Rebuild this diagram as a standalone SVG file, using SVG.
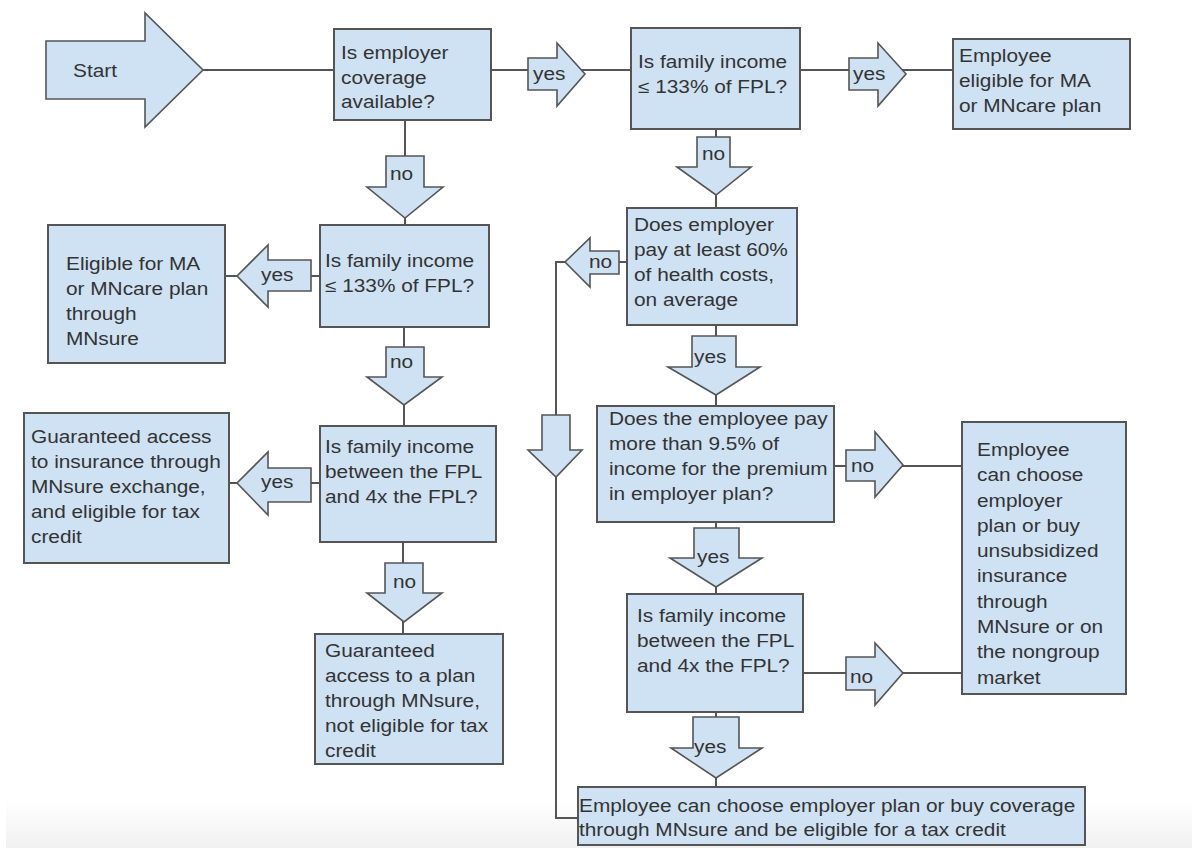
<svg xmlns="http://www.w3.org/2000/svg" width="1192" height="848" viewBox="0 0 1192 848">
<defs>
<linearGradient id="band" x1="0" y1="0" x2="0" y2="1">
<stop offset="0" stop-color="#ffffff"/>
<stop offset="1" stop-color="#f1f1f1"/>
</linearGradient>
<style>
.box{fill:#cfe2f3;stroke:#555;stroke-width:2}
.arr{fill:#cfe2f3;stroke:#555;stroke-width:1.6;stroke-linejoin:miter}
.ln{fill:none;stroke:#555;stroke-width:2}
text{font-family:"Liberation Sans",Arial,sans-serif;font-size:17.5px;fill:#333}
</style>
</defs>
<rect x="0" y="0" width="1192" height="848" fill="#fff"/>
<rect x="6" y="800" width="1186" height="48" fill="url(#band)"/>

<g id="connectors">
<polyline class="ln" points="203,70 334,70"/>
<polyline class="ln" points="491,70 631,70"/>
<polyline class="ln" points="800,70 953,70"/>
<polyline class="ln" points="405,120 405,225"/>
<polyline class="ln" points="320,276 225,276"/>
<polyline class="ln" points="404,327 404,426"/>
<polyline class="ln" points="320,483 229,483"/>
<polyline class="ln" points="403,542 403,634"/>
<polyline class="ln" points="716,129 716,208"/>
<polyline class="ln" points="627,262 556,262 556,818 578,818"/>
<polyline class="ln" points="716,325 716,406"/>
<polyline class="ln" points="834,466 962,466"/>
<polyline class="ln" points="716,522 716,594"/>
<polyline class="ln" points="803,673 962,673"/>
<polyline class="ln" points="716,712 716,787"/>
</g>

<g id="start">
<polygon class="arr" points="46,41 145,41 145,13 203,70 145,127 145,99 46,99"/>
<text transform="translate(73,77) scale(1.19 1)">Start</text>
</g>

<g id="arrow-yes-1">
<polygon class="arr" points="528,58 557,58 557,43 585,74 557,106 557,90 528,90"/>
<text transform="translate(533,80) scale(1.19 1)">yes</text>
</g>
<g id="arrow-yes-2">
<polygon class="arr" points="849,58 878,58 878,43 906,74 878,106 878,90 849,90"/>
<text transform="translate(853,80) scale(1.19 1)">yes</text>
</g>
<g id="arrow-no-1">
<polygon class="arr" points="386,156 424,156 424,187 443,187 405,218 367,187 386,187"/>
<text transform="translate(390,180) scale(1.19 1)">no</text>
</g>
<g id="arrow-yes-3">
<polygon class="arr" points="311,260 311,291 268,291 268,307 237,276 268,245 268,260"/>
<text transform="translate(261,281) scale(1.19 1)">yes</text>
</g>
<g id="arrow-no-2">
<polygon class="arr" points="386,347 424,347 424,377 442,377 404,405 367,377 386,377"/>
<text transform="translate(390,368) scale(1.19 1)">no</text>
</g>
<g id="arrow-yes-4">
<polygon class="arr" points="311,468 311,502 268,502 268,515 237,483 268,452 268,468"/>
<text transform="translate(261,488) scale(1.19 1)">yes</text>
</g>
<g id="arrow-no-3">
<polygon class="arr" points="385,563 423,563 423,593 442,593 404,622 367,593 385,593"/>
<text transform="translate(393,588) scale(1.19 1)">no</text>
</g>
<g id="arrow-no-4">
<polygon class="arr" points="697,137 730,137 730,167 751,167 716,195 677,167 697,167"/>
<text transform="translate(702,160) scale(1.19 1)">no</text>
</g>
<g id="arrow-no-5">
<polygon class="arr" points="619,251 619,274 590,274 590,287 565,262 590,238 590,251"/>
<text transform="translate(589,268) scale(1.19 1)">no</text>
</g>
<g id="arrow-down-left">
<polygon class="arr" points="542,415 570,415 570,450 582,450 556,477 528,450 542,450"/>
</g>
<g id="arrow-yes-5">
<polygon class="arr" points="692,336 736,336 736,367 760,367 716,395 668,367 692,367"/>
<text transform="translate(694,363) scale(1.19 1)">yes</text>
</g>
<g id="arrow-no-6">
<polygon class="arr" points="846,450 875,450 875,432 903,465 875,497 875,481 846,481"/>
<text transform="translate(851,472) scale(1.19 1)">no</text>
</g>
<g id="arrow-yes-6">
<polygon class="arr" points="694,528 739,528 739,558 762,558 716,587 670,558 694,558"/>
<text transform="translate(697,563) scale(1.19 1)">yes</text>
</g>
<g id="arrow-no-7">
<polygon class="arr" points="846,657 875,657 875,643 903,673 875,705 875,690 846,690"/>
<text transform="translate(850,683) scale(1.19 1)">no</text>
</g>
<g id="arrow-yes-7">
<polygon class="arr" points="693,717 739,717 739,748 762,748 716,778 671,748 693,748"/>
<text transform="translate(694,753) scale(1.19 1)">yes</text>
</g>

<g id="box-employer-coverage">
<rect class="box" x="334" y="29" width="157" height="91"/>
<text transform="translate(341,59) scale(1.19 1)"><tspan x="0" y="0">Is employer</tspan><tspan x="0" y="25">coverage</tspan><tspan x="0" y="49">available?</tspan></text>
</g>
<g id="box-income-133-a">
<rect class="box" x="631" y="28" width="169" height="101"/>
<text transform="translate(638,68) scale(1.19 1)"><tspan x="0" y="0">Is family income</tspan><tspan x="0" y="25">≤ 133% of FPL?</tspan></text>
</g>
<g id="box-employee-eligible-ma">
<rect class="box" x="953" y="39" width="177" height="90"/>
<text transform="translate(959,62) scale(1.19 1)"><tspan x="0" y="0">Employee</tspan><tspan x="0" y="25">eligible for MA</tspan><tspan x="0" y="50">or MNcare plan</tspan></text>
</g>
<g id="box-income-133-b">
<rect class="box" x="320" y="225" width="169" height="102"/>
<text transform="translate(325,267) scale(1.19 1)"><tspan x="0" y="0">Is family income</tspan><tspan x="0" y="25">≤ 133% of FPL?</tspan></text>
</g>
<g id="box-eligible-ma-mnsure">
<rect class="box" x="48" y="225" width="177" height="138"/>
<text transform="translate(66,270) scale(1.19 1)"><tspan x="0" y="0">Eligible for MA</tspan><tspan x="0" y="25">or MNcare plan</tspan><tspan x="0" y="50">through</tspan><tspan x="0" y="75">MNsure</tspan></text>
</g>
<g id="box-income-fpl-a">
<rect class="box" x="320" y="426" width="176" height="116"/>
<text transform="translate(325,453) scale(1.19 1)"><tspan x="0" y="0">Is family income</tspan><tspan x="0" y="25">between the FPL</tspan><tspan x="0" y="50">and 4x the FPL?</tspan></text>
</g>
<g id="box-guaranteed-tax-credit">
<rect class="box" x="24" y="413" width="205" height="150"/>
<text transform="translate(31,443) scale(1.19 1)"><tspan x="0" y="0">Guaranteed access</tspan><tspan x="0" y="25">to insurance through</tspan><tspan x="0" y="50">MNsure exchange,</tspan><tspan x="0" y="75">and eligible for tax</tspan><tspan x="0" y="100">credit</tspan></text>
</g>
<g id="box-guaranteed-no-credit">
<rect class="box" x="315" y="634" width="188" height="130"/>
<text transform="translate(325,657) scale(1.19 1)"><tspan x="0" y="0">Guaranteed</tspan><tspan x="0" y="25">access to a plan</tspan><tspan x="0" y="50">through MNsure,</tspan><tspan x="0" y="75">not eligible for tax</tspan><tspan x="0" y="100">credit</tspan></text>
</g>
<g id="box-employer-60">
<rect class="box" x="627" y="208" width="170" height="117"/>
<text transform="translate(634,231) scale(1.19 1)"><tspan x="0" y="0">Does employer</tspan><tspan x="0" y="25">pay at least 60%</tspan><tspan x="0" y="50">of health costs,</tspan><tspan x="0" y="75">on average</tspan></text>
</g>
<g id="box-premium-95">
<rect class="box" x="597" y="406" width="237" height="116"/>
<text transform="translate(609,425) scale(1.19 1)"><tspan x="0" y="0">Does the employee pay</tspan><tspan x="0" y="25">more than 9.5% of</tspan><tspan x="0" y="50">income for the premium</tspan><tspan x="0" y="75">in employer plan?</tspan></text>
</g>
<g id="box-unsubsidized">
<rect class="box" x="962" y="422" width="164" height="272"/>
<text transform="translate(977,456) scale(1.19 1)"><tspan x="0" y="0">Employee</tspan><tspan x="0" y="25.3">can choose</tspan><tspan x="0" y="50.6">employer</tspan><tspan x="0" y="75.9">plan or buy</tspan><tspan x="0" y="101.2">unsubsidized</tspan><tspan x="0" y="126.5">insurance</tspan><tspan x="0" y="151.8">through</tspan><tspan x="0" y="177.1">MNsure or on</tspan><tspan x="0" y="202.4">the nongroup</tspan><tspan x="0" y="227.7">market</tspan></text>
</g>
<g id="box-income-fpl-b">
<rect class="box" x="627" y="594" width="176" height="118"/>
<text transform="translate(637,622) scale(1.19 1)"><tspan x="0" y="0">Is family income</tspan><tspan x="0" y="25">between the FPL</tspan><tspan x="0" y="50">and 4x the FPL?</tspan></text>
</g>
<g id="box-tax-credit">
<rect class="box" x="578" y="787" width="507" height="58"/>
<text transform="translate(579,812) scale(1.19 1)"><tspan x="0" y="0">Employee can choose employer plan or buy coverage</tspan><tspan x="0" y="24">through MNsure and be eligible for a tax credit</tspan></text>
</g>
</svg>
